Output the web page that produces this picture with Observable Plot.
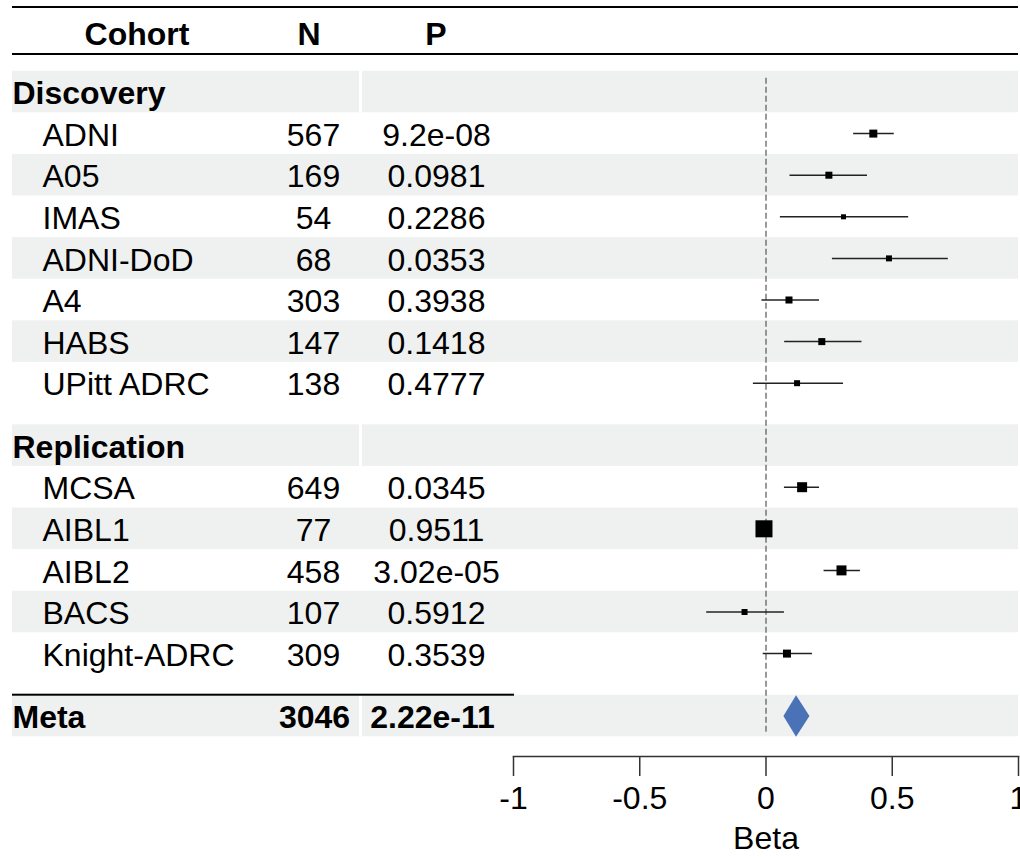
<!DOCTYPE html>
<html><head><meta charset="utf-8">
<script src="https://cdn.jsdelivr.net/npm/d3@7"></script>
<script src="https://cdn.jsdelivr.net/npm/@observablehq/plot@0.6"></script>
<style>
body{margin:0;background:#fff;font-family:"Liberation Sans",Arial,sans-serif;}
#hdr{position:relative;width:1020px;height:56px;}
#hdr .line{position:absolute;left:12px;width:1006px;height:2px;background:#000;}
#hdr span{position:absolute;top:18px;font-size:32px;font-weight:bold;line-height:32px;transform:translateX(-50%);white-space:nowrap;color:#000;}
</style></head><body>
<div id="hdr"></div>
<div id="chart"></div>
<script>
// ---- data ----
const headers = ["Cohort", "N", "P"];
const groupNames = ["Discovery", "Replication"];
const cohorts = ["ADNI","A05","IMAS","ADNI-DoD","A4","HABS","UPitt ADRC","MCSA","AIBL1","AIBL2","BACS","Knight-ADRC"];
const groups  = ["Discovery","Discovery","Discovery","Discovery","Discovery","Discovery","Discovery","Replication","Replication","Replication","Replication","Replication"];
const nValues = [567,169,54,68,303,147,138,649,77,458,107,309];
const pValues = ["9.2e-08","0.0981","0.2286","0.0353","0.3938","0.1418","0.4777","0.0345","0.9511","3.02e-05","0.5912","0.3539"];
const beta    = [0.425,0.249,0.307,0.487,0.091,0.221,0.123,0.143,-0.008,0.299,-0.085,0.083];
const ciLow   = [0.347,0.095,0.057,0.263,-0.016,0.074,-0.050,0.073,-0.030,0.230,-0.235,-0.011];
const ciHigh  = [0.508,0.402,0.565,0.722,0.212,0.380,0.307,0.212,0.015,0.374,0.073,0.184];
const weight  = [7.1,5.5,2.8,4.0,5.5,5.5,4.0,11.1,32.2,11.1,4.0,7.1];
const metaLabel = "Meta";
const metaN = 3046;
const metaP = "2.22e-11";
const metaBeta = 0.119, metaLow = 0.069, metaHigh = 0.172;
const xTicks = [-1, -0.5, 0, 0.5, 1];
const xLabel = "Beta";

// ---- header (HTML, above the SVG) ----
const hdr = document.getElementById("hdr");
const colCenters = [137, 309, 436];
hdr.innerHTML = `<div class="line" style="top:6px"></div><div class="line" style="top:53px"></div>` +
  headers.map((h, i) => `<span style="left:${colCenters[i]}px">${h}</span>`).join("");

// ---- rows ----
const rows = [];
let pos = 0;
groupNames.forEach((g, gi) => {
  if (gi > 0) pos += 0.5;
  rows.push({type: "group", label: g, pos, shade: true});
  pos++;
  let k = 0;
  cohorts.forEach((c, i) => {
    if (groups[i] !== g) return;
    k++;
    rows.push({type: "study", label: c, n: String(nValues[i]), p: pValues[i], beta: beta[i], lo: ciLow[i], hi: ciHigh[i], w: weight[i], pos, shade: k % 2 === 0});
    pos++;
  });
});
pos += 0.5;
rows.push({type: "meta", label: metaLabel, n: String(metaN), p: metaP, beta: metaBeta, lo: metaLow, hi: metaHigh, pos, shade: true});

const studies = rows.filter(d => d.type === "study");
const groupRows = rows.filter(d => d.type === "group");
const metaRows = rows.filter(d => d.type === "meta");
const plainShaded = rows.filter(d => d.shade && d.type === "study");
const splitShaded = rows.filter(d => d.shade && d.type !== "study");
const yMin = d3.min(rows, d => d.pos) - 0.5;
const yMax = d3.max(rows, d => d.pos) + 0.5;
const diamond = metaRows.flatMap(m => [
  {x: m.lo, y: m.pos}, {x: m.beta, y: m.pos - 0.5}, {x: m.hi, y: m.pos}, {x: m.beta, y: m.pos + 0.5}
]);

const fs = 32;
const band = "#eff1f0";
const chart = Plot.plot({
  width: 1020,
  height: 801,
  marginLeft: 513,
  marginRight: 2,
  marginTop: 0,
  marginBottom: 101,
  style: {fontFamily: "'Liberation Sans', Arial, sans-serif", fontSize: fs + "px", color: "#000", background: "#fff"},
  x: {domain: [xTicks[0], xTicks[xTicks.length - 1]]},
  y: {domain: [yMin, yMax], range: [14.7, 680.3], axis: null},
  r: {type: "sqrt", domain: [0, d3.max(weight)], range: [0, 9.6]},
  marks: [
    Plot.rect(plainShaded, {y1: d => d.pos - 0.5, y2: d => d.pos + 0.5, fill: band, insetLeft: -501}),
    Plot.rect(splitShaded, {y1: d => d.pos - 0.5, y2: d => d.pos + 0.5, fill: band, insetLeft: -501, insetRight: 659}),
    Plot.rect(splitShaded, {y1: d => d.pos - 0.5, y2: d => d.pos + 0.5, fill: band, insetLeft: -151}),
    Plot.rect(metaRows, {y1: d => d.pos - 0.5, y2: d => d.pos - 0.5, fill: "#000", insetTop: -1, insetBottom: -1, insetLeft: -501, insetRight: 504}),
    Plot.ruleX([0], {y1: yMin, y2: yMax, insetTop: 7, insetBottom: 2, stroke: "#555", strokeWidth: 1.2, strokeDasharray: "6,3"}),
    Plot.ruleY(studies, {y: "pos", x1: "lo", x2: "hi", stroke: "#222", strokeWidth: 1.5}),
    Plot.dot(studies, {x: "beta", y: "pos", r: "w", symbol: "square", fill: "#000", stroke: null}),
    Plot.line(diamond, {x: "x", y: "y", curve: "linear-closed", fill: "#4a72b6", stroke: null}),
    Plot.text(groupRows, {y: "pos", text: "label", frameAnchor: "left", textAnchor: "start", dx: -501, dy: 2, fontWeight: "bold", fontSize: fs, fill: "#000"}),
    Plot.text(studies, {y: "pos", text: "label", frameAnchor: "left", textAnchor: "start", dx: -471, dy: 2, fontSize: fs, fill: "#000"}),
    Plot.text(studies, {y: "pos", text: "n", frameAnchor: "left", textAnchor: "middle", dx: -200, dy: 2, fontSize: fs, fill: "#000"}),
    Plot.text(studies, {y: "pos", text: "p", frameAnchor: "left", textAnchor: "middle", dx: -77, dy: 2, fontSize: fs, fill: "#000"}),
    Plot.text(metaRows, {y: "pos", text: "label", frameAnchor: "left", textAnchor: "start", dx: -501, dy: 2, fontWeight: "bold", fontSize: fs, fill: "#000"}),
    Plot.text(metaRows, {y: "pos", text: "n", frameAnchor: "left", textAnchor: "middle", dx: -199, dy: 2, fontWeight: "bold", fontSize: fs, fill: "#000"}),
    Plot.text(metaRows, {y: "pos", text: "p", frameAnchor: "left", textAnchor: "middle", dx: -81, dy: 2, fontWeight: "bold", fontSize: fs, fill: "#000"}),
    Plot.frame({anchor: "bottom", stroke: "#333", strokeWidth: 1.5}),
    Plot.axisX({ticks: xTicks, tickSize: 20, tickPadding: 10, tickFormat: d => String(d), fontSize: fs, label: null, stroke: "#333", strokeWidth: 1.5, fill: "#000"}),
    Plot.text([xLabel], {frameAnchor: "bottom", dy: 92, fontSize: fs, fill: "#000"})
  ]
});
document.getElementById("chart").appendChild(chart);
</script>
</body></html>
